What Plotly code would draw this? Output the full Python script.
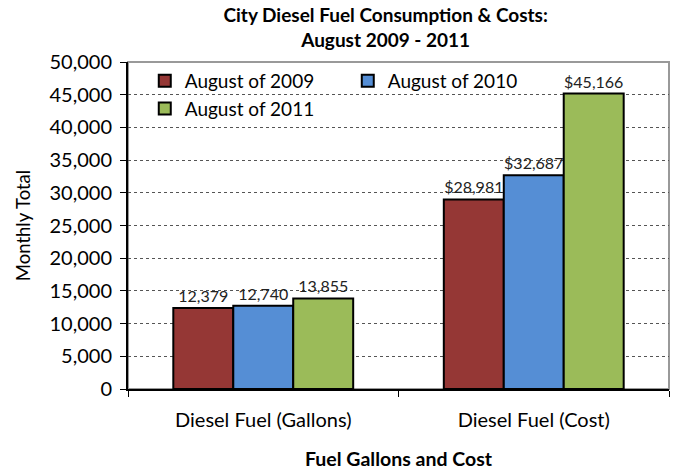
import plotly.graph_objects as go

categories = ["Diesel Fuel (Gallons)", "Diesel Fuel (Cost)"]
series_names = ["August of 2009", "August of 2010", "August of 2011"]
values_2009 = [12379, 28981]
values_2010 = [12740, 32687]
values_2011 = [13855, 45166]
colors = ["#953735", "#558ED5", "#9BBB59"]

font_family = "Lato, 'Open Sans', sans-serif"

fig = go.Figure()
for name, vals, color in zip(series_names, [values_2009, values_2010, values_2011], colors):
    labels = [f"{vals[0]:,}", f"${vals[1]:,}"]
    fig.add_trace(go.Bar(
        x=categories,
        y=vals,
        name=name,
        text=labels,
        textposition="outside",
        cliponaxis=False,
        textfont=dict(size=16, color="#222"),
        marker=dict(color=color, line=dict(color="black", width=2)),
    ))

# gray frame on top/right of plot area
fig.add_shape(type="rect", xref="paper", yref="paper", x0=0, y0=0, x1=1, y1=1,
              line=dict(color="#999", width=2), layer="below")

fig.update_layout(
    width=678, height=472,
    margin=dict(l=120, r=17, t=54, b=91),
    paper_bgcolor="white", plot_bgcolor="white",
    font=dict(family=font_family, color="black"),
    title=dict(
        text="<b>City Diesel Fuel Consumption & Costs:<br>August 2009 - 2011</b>",
        x=0.557, xanchor="center", y=0.97, yanchor="top",
        font=dict(size=19, color="black"),
    ),
    barmode="group",
    bargap=0.335,
    bargroupgap=0,
    showlegend=True,
    legend=dict(
        orientation="h", x=0.031, y=1.0, xanchor="left", yanchor="top",
        entrywidth=158, entrywidthmode="pixels",
        font=dict(size=19), bgcolor="rgba(0,0,0,0)",
    ),
    xaxis=dict(
        title=dict(text="<b>Fuel Gallons and Cost</b>", font=dict(size=19.5), standoff=22),
        tickfont=dict(size=20),
        showline=True, linecolor="black", linewidth=2,
        ticks="outside", tickson="boundaries", ticklen=6, tickcolor="black",
        ticklabelstandoff=12,
        showgrid=False, automargin=False,
    ),
    yaxis=dict(
        title=dict(text="Monthly Total", font=dict(size=18.5), standoff=14),
        range=[0, 50000], dtick=5000, tickformat=",",
        tickfont=dict(size=20),
        showline=True, linecolor="black", linewidth=2,
        ticks="outside", ticklen=6, tickcolor="black",
        ticklabelstandoff=4,
        showgrid=True, gridcolor="#555", griddash="dot", gridwidth=1,
        zeroline=False, automargin=False,
    ),
)

fig.write_html("out.html")
